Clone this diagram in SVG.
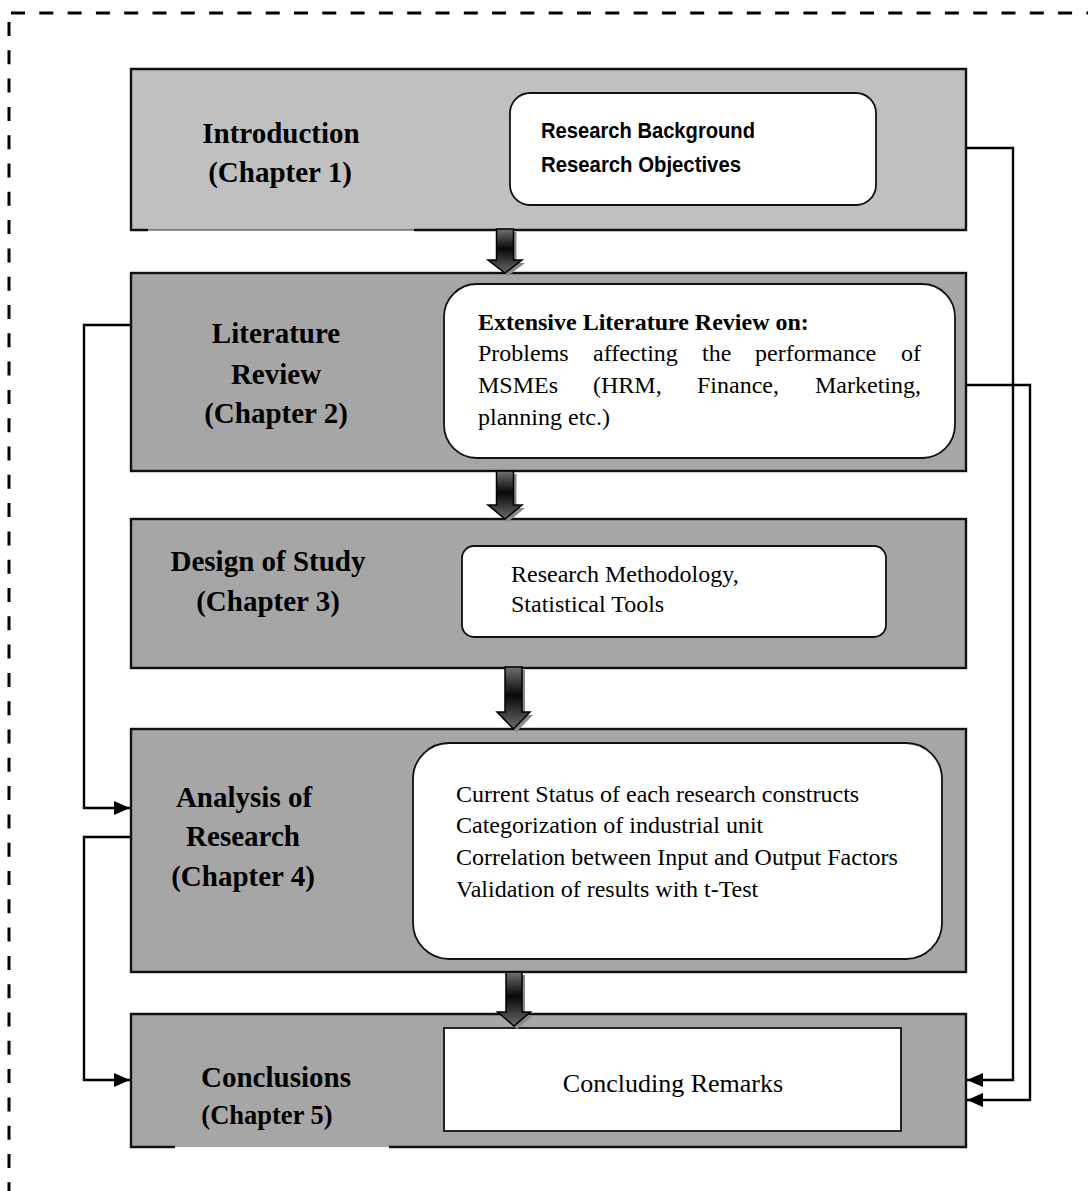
<svg xmlns="http://www.w3.org/2000/svg" width="1088" height="1191" viewBox="0 0 1088 1191">
<style>
.frame{fill:none;stroke:#000;stroke-width:3;stroke-dasharray:14 14.3}
.b1{fill:#c0c0c0}
.bx{fill:#a6a6a6}
.edge{fill:none;stroke:#111;stroke-width:2.4}
.inner{fill:#fff;stroke:#111;stroke-width:1.8}
.lbl{font-family:"Liberation Serif","Times New Roman",serif;font-weight:bold;font-size:29px;fill:#000;text-anchor:middle}
.body{font-family:"Liberation Serif","Times New Roman",serif;font-size:24px;fill:#000}
.narrow{font-family:"Liberation Sans Narrow","Arial Narrow","Liberation Sans",sans-serif;font-weight:bold;font-size:22px;fill:#000}
.conn{fill:none;stroke:#000;stroke-width:2.4}
.barrow{fill:url(#ag);stroke:#000;stroke-width:1.5}
.bshadow{fill:#8a8a8a}
</style>
<defs>
<linearGradient id="ag" x1="0" y1="0" x2="0" y2="1">
<stop offset="0" stop-color="#707070"/>
<stop offset="0.45" stop-color="#080808"/>
<stop offset="1" stop-color="#6a6a6a"/>
</linearGradient>
<marker id="ah" markerUnits="userSpaceOnUse" markerWidth="17" markerHeight="15" refX="16" refY="7" orient="auto">
<path d="M0,0 L16,7 L0,14 z" fill="#000"/>
</marker>
</defs>

<path class="frame" d="M11,13 H1088"/>
<path class="frame" d="M9,22 V1191"/>

<g id="ch1">
<rect class="b1" x="131" y="69" width="835" height="161"/>
<path class="edge" d="M148,230 H131 V69 H966 V230 H414"/>
<path d="M148,230 H414" fill="none" stroke="#333" stroke-width="1"/>
<rect class="inner" x="510" y="93" width="366" height="112" rx="20"/>
<text class="narrow" x="541" y="138" textLength="214" lengthAdjust="spacingAndGlyphs">Research Background</text>
<text class="narrow" x="541" y="172" textLength="200" lengthAdjust="spacingAndGlyphs">Research Objectives</text>
<text class="lbl" x="281" y="143">Introduction</text>
<text class="lbl" x="280" y="182">(Chapter 1)</text>
</g>

<g id="ch2">
<rect class="bx" x="131" y="273" width="835" height="198"/>
<rect class="edge" x="131" y="273" width="835" height="198"/>
<rect class="inner" x="444" y="284" width="511" height="174" rx="33"/>
<text class="body" x="478" y="330" font-weight="bold">Extensive Literature Review on:</text>
<text class="body" y="361"><tspan x="478">Problems</tspan><tspan x="593">affecting</tspan><tspan x="702">the</tspan><tspan x="755">performance</tspan></text>
<text class="body" x="921" y="361" text-anchor="end">of</text>
<text class="body" y="393"><tspan x="478">MSMEs</tspan><tspan x="593">(HRM,</tspan><tspan x="697">Finance,</tspan></text>
<text class="body" x="921" y="393" text-anchor="end">Marketing,</text>
<text class="body" x="478" y="425">planning etc.)</text>
<text class="lbl" x="276" y="343">Literature</text>
<text class="lbl" x="276" y="384">Review</text>
<text class="lbl" x="276" y="423">(Chapter 2)</text>
</g>

<g id="ch3">
<rect class="bx" x="131" y="519" width="835" height="149"/>
<rect class="edge" x="131" y="519" width="835" height="149"/>
<rect class="inner" x="462" y="546" width="424" height="91" rx="12"/>
<text class="body" x="511" y="582">Research Methodology,</text>
<text class="body" x="511" y="612">Statistical Tools</text>
<text class="lbl" x="268" y="571">Design of Study</text>
<text class="lbl" x="268" y="611">(Chapter 3)</text>
</g>

<g id="ch4">
<rect class="bx" x="131" y="729" width="835" height="243"/>
<rect class="edge" x="131" y="729" width="835" height="243"/>
<rect class="inner" x="413" y="743" width="529" height="216" rx="36"/>
<text class="body" x="456" y="802">Current Status of each research constructs</text>
<text class="body" x="456" y="833">Categorization of industrial unit</text>
<text class="body" x="456" y="865">Correlation between Input and Output Factors</text>
<text class="body" x="456" y="897">Validation of results with t-Test</text>
<text class="lbl" x="244" y="807">Analysis of</text>
<text class="lbl" x="243" y="846">Research</text>
<text class="lbl" x="243" y="886">(Chapter 4)</text>
</g>

<g id="ch5">
<rect class="bx" x="131" y="1014" width="835" height="133"/>
<path class="edge" d="M175,1147 H131 V1014 H966 V1147 H389"/>
<rect class="inner" x="444" y="1028" width="457" height="103"/>
<text class="body" x="673" y="1092" text-anchor="middle" style="font-size:26px">Concluding Remarks</text>
<text class="lbl" x="276" y="1087">Conclusions</text>
<text class="lbl" x="267" y="1124" style="font-size:26.5px">(Chapter 5)</text>
</g>

<g id="flow-arrows">
<path class="bshadow" transform="translate(3,3)" d="M496.5,229 H513.5 V260 H522 L505,273 L488,260 H496.5 Z"/>
<path class="barrow" d="M496.5,229 H513.5 V260 H522 L505,273 L488,260 H496.5 Z"/>
<path class="bshadow" transform="translate(3,3)" d="M496.5,471 H513.5 V505 H522 L505,519 L488,505 H496.5 Z"/>
<path class="barrow" d="M496.5,471 H513.5 V505 H522 L505,519 L488,505 H496.5 Z"/>
<path class="bshadow" transform="translate(3,3)" d="M505,667 H522 V712 H530 L513.5,729 L497,712 H505 Z"/>
<path class="barrow" d="M505,667 H522 V712 H530 L513.5,729 L497,712 H505 Z"/>
<path class="bshadow" transform="translate(3,3)" d="M506,972 H522 V1012 H530.5 L514,1026 L497.5,1012 H506 Z"/>
<path class="barrow" d="M506,972 H522 V1012 H530.5 L514,1026 L497.5,1012 H506 Z"/>
</g>

<g id="connectors">
<path class="conn" d="M966,148 H1013 V1080 H967" marker-end="url(#ah)"/>
<path class="conn" d="M966,385 H1030 V1100 H967" marker-end="url(#ah)"/>
<path class="conn" d="M131,325 H84 V808 H130" marker-end="url(#ah)"/>
<path class="conn" d="M131,837 H84 V1080 H130" marker-end="url(#ah)"/>
</g>
</svg>
